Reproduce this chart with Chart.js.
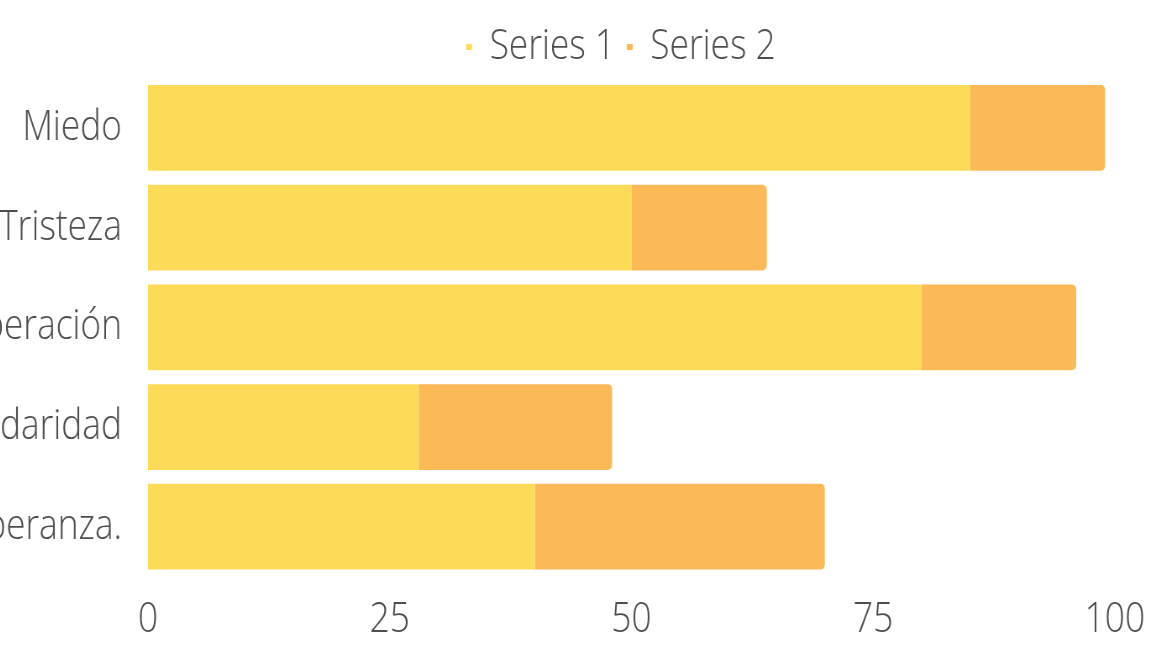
<!DOCTYPE html>
<html>
<head>
<meta charset="utf-8">
<script src="https://cdn.jsdelivr.net/npm/chart.js@4.4.0/dist/chart.umd.min.js"></script>
<style>
    html, body { margin: 0; padding: 0; background: #fff; overflow: hidden; }
    body { width: 1156px; height: 671px; position: relative; }
    /* the reference looks horizontally squeezed, so the canvas is drawn wide and scaled */
    #chart {
        position: absolute;
        left: -104px;
        top: 0;
        transform: scaleX(0.84);
        transform-origin: 0 0;
    }
</style>
</head>
<body>
<canvas id="chart" width="1726" height="671"></canvas>
<script>
// data
const categories = ['Miedo', 'Tristeza', 'Desesperación', 'Solidaridad', 'Esperanza.'];
const series1 = [85, 50, 80, 28, 40];
const series2 = [14, 14, 16, 20, 30];
const seriesNames = ['Series 1', 'Series 2'];
const xTicks = [0, 25, 50, 75, 100];

const textColor = '#4d4d4d';
const baseFont = { family: "'Open Sans', sans-serif", size: 42, weight: '300' };

const ctx = document.getElementById('chart').getContext('2d');
const chart = new Chart(ctx, {
    type: 'bar',
    data: {
        labels: categories,
        datasets: [{
            label: seriesNames[0],
            data: series1,
            backgroundColor: '#FDDB59',
            borderWidth: 0,
            borderRadius: 0,
            categoryPercentage: 1,
            barPercentage: 0.86
        }, {
            label: seriesNames[1],
            data: series2,
            backgroundColor: '#FBB958',
            borderWidth: 0,
            borderRadius: 5,
            borderSkipped: 'start',
            categoryPercentage: 1,
            barPercentage: 0.86
        }]
    },
    options: {
        indexAxis: 'y',
        responsive: false,
        animation: false,
        devicePixelRatio: 1,
        layout: {
            padding: { top: 12, right: 0, bottom: 8, left: 0 }
        },
        plugins: {
            tooltip: { enabled: false },
            legend: {
                position: 'top',
                labels: {
                    color: textColor,
                    font: baseFont,
                    boxWidth: 7,
                    boxHeight: 6,
                    padding: 14
                }
            }
        },
        scales: {
            x: {
                stacked: true,
                min: 0,
                max: 100,
                grid: { display: false, drawTicks: false },
                border: { display: false },
                afterBuildTicks: function(scale) {
                    scale.ticks = xTicks.map(v => ({ value: v }));
                },
                ticks: {
                    color: textColor,
                    font: baseFont,
                    padding: 18,
                    maxRotation: 0
                }
            },
            y: {
                stacked: true,
                grid: { display: false, drawTicks: false },
                border: { display: false },
                afterFit: function(scale) {
                    scale.width = 300;
                },
                ticks: {
                    color: textColor,
                    font: baseFont,
                    padding: 31
                }
            },
            // empty axis on the right, only reserves room so the legend sits where it does in the reference
            yRight: {
                axis: 'y',
                type: 'category',
                position: 'right',
                grid: { display: false, drawTicks: false },
                border: { display: false },
                ticks: { display: false },
                afterFit: function(scale) {
                    scale.width = 275;
                }
            }
        }
    }
});
</script>
</body>
</html>
